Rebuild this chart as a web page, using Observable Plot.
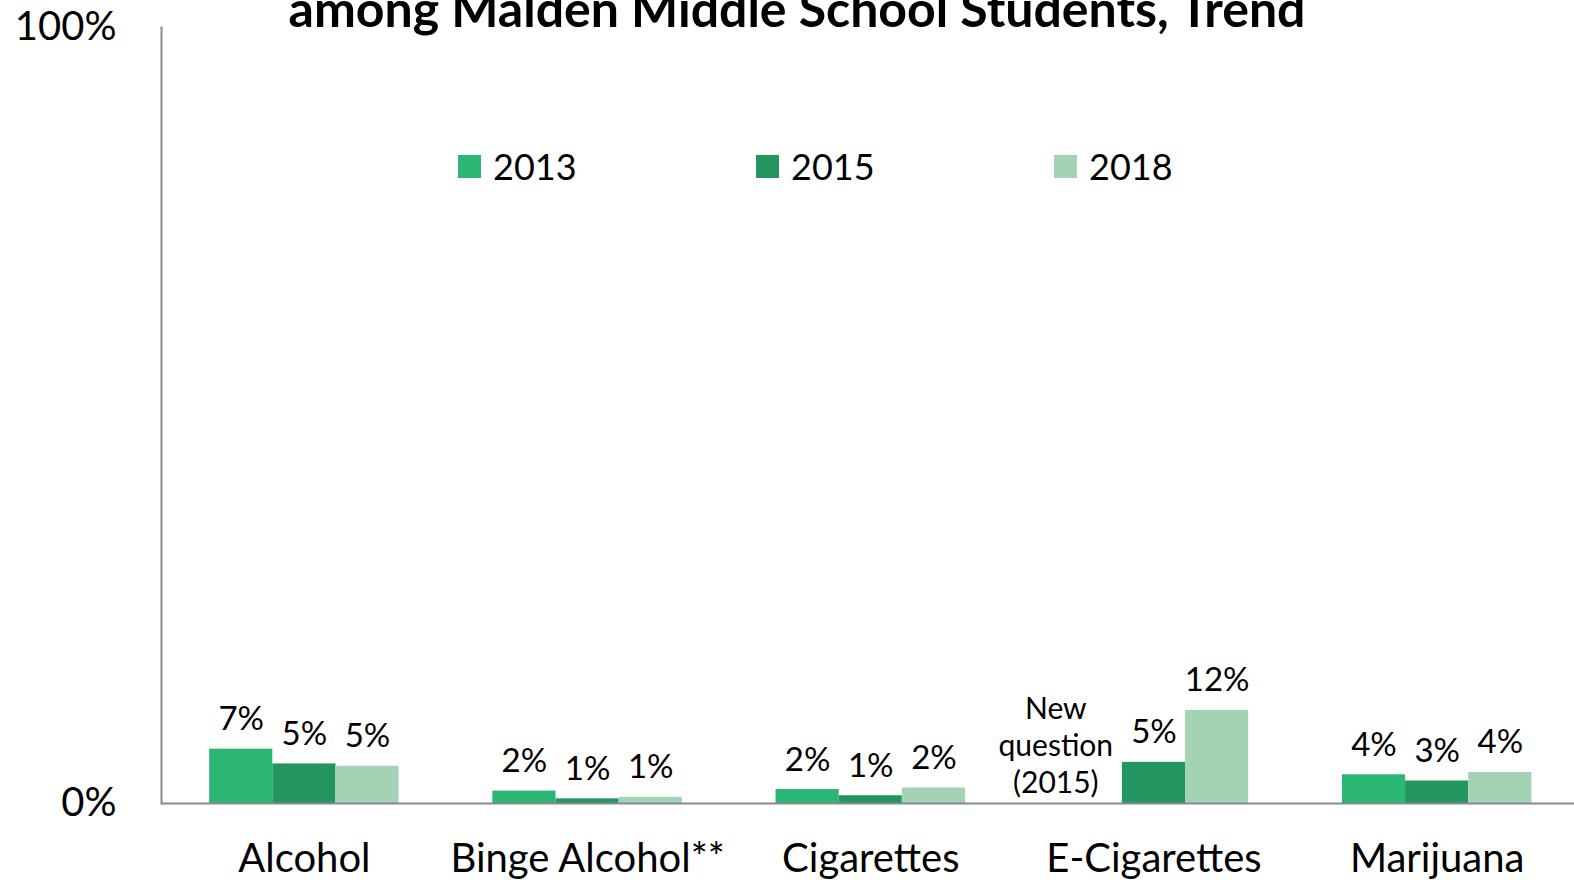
<!DOCTYPE html>
<html>
<head>
<meta charset="utf-8">
<script src="https://cdn.jsdelivr.net/npm/d3@7"></script>
<script src="https://cdn.jsdelivr.net/npm/@observablehq/plot@0.6"></script>
<style>
  html, body { margin: 0; padding: 0; background: #fff; }
  #wrap { position: relative; width: 1574px; height: 880px; overflow: hidden; font-family: Lato, "Open Sans", sans-serif; }
  #title { position: absolute; left: 0; width: 1594px; text-align: center; top: -17px; font-weight: 700; font-size: 50px; line-height: 1; color: #000; white-space: nowrap; }
  #legend { position: absolute; top: 144px; left: 0; width: 1574px; height: 44px; }
  .item { position: absolute; top: 0; height: 44px; display: flex; align-items: center; font-size: 36px; color: #000; }
  .sw { width: 23px; height: 23px; margin-right: 12px; }
  svg { position: absolute; top: 0; left: 0; }
</style>
</head>
<body>
<div id="wrap">
  <div id="chart"></div>
  <div id="title">among Malden Middle School Students, Trend</div>
  <div id="legend"></div>
</div>
<script>
const categories = ["Alcohol", "Binge Alcohol**", "Cigarettes", "E-Cigarettes", "Marijuana"];
const years = ["2013", "2015", "2018"];
const values2013 = [7.0, 1.6, 1.8, null, 3.7];
const values2015 = [5.1, 0.6, 1.0, 5.3, 2.9];
const values2018 = [4.8, 0.8, 2.0, 12.0, 4.0];
const colors = ["#2cb673", "#239660", "#a3d3b4"];
const yTicks = [0, 100];
const noteCategory = "E-Cigarettes";
const noteYear = "2013";
const noteText = "New\nquestion\n(2015)";

// group layout within each category slot (fractions of one category step)
const groupOffset = 0.17;
const barWidth = 0.223;

const series = [values2013, values2015, values2018];
const data = [];
categories.forEach((c, i) => {
  years.forEach((y, j) => {
    const v = series[j][i];
    if (v != null) data.push({category: c, ci: i, year: y, yi: j, value: v});
  });
});
const x1 = d => d.ci + groupOffset + d.yi * barWidth;
const x2 = d => d.ci + groupOffset + (d.yi + 1) * barWidth;
const xc = d => d.ci + groupOffset + (d.yi + 0.5) * barWidth;
const note = [{category: noteCategory, ci: categories.indexOf(noteCategory), year: noteYear, yi: years.indexOf(noteYear)}];
const catTicks = categories.map((c, i) => i + groupOffset + 1.5 * barWidth);

const plot = Plot.plot({
  width: 1574,
  height: 880,
  marginTop: 27,
  marginBottom: 77,
  marginLeft: 161,
  marginRight: 0,
  style: {fontFamily: "Lato, 'Open Sans', sans-serif", color: "#000", background: "transparent"},
  x: {type: "linear", domain: [0, categories.length], range: [161, 1577], axis: null},
  y: {domain: [0, 100], axis: null},
  color: {domain: years, range: colors},
  marks: [
    Plot.rectY(data, {x1, x2, y: "value", fill: "year"}),
    Plot.text(data, {x: xc, y: "value", text: d => Math.round(d.value) + "%", lineAnchor: "bottom", dy: -19, fontSize: 33, fill: "#000"}),
    Plot.text(note, {x: xc, y: () => 0, text: () => noteText, lineAnchor: "bottom", dy: -11, dx: -35, fontSize: 30, lineHeight: 1.22, fill: "#000"}),
    Plot.ruleY([0], {stroke: "#898989", strokeWidth: 2}),
    Plot.frame({anchor: "left", stroke: "#898989", strokeWidth: 2}),
    Plot.axisY({ticks: yTicks, tickFormat: d => d + "%", tickSize: 0, tickPadding: 45, fontSize: 40, anchor: "left", label: null}),
    Plot.axisX({ticks: catTicks, tickFormat: d => categories[Math.floor(d)], tickSize: 0, tickPadding: 40, fontSize: 40, anchor: "bottom", label: null})
  ]
});
document.getElementById("chart").appendChild(plot);

const legendX = [458, 756, 1054];
const legend = document.getElementById("legend");
years.forEach((y, i) => {
  const it = document.createElement("div");
  it.className = "item";
  it.style.left = legendX[i] + "px";
  const sw = document.createElement("div");
  sw.className = "sw";
  sw.style.background = colors[i];
  it.appendChild(sw);
  const t = document.createElement("span");
  t.textContent = y;
  it.appendChild(t);
  legend.appendChild(it);
});
</script>
</body>
</html>
